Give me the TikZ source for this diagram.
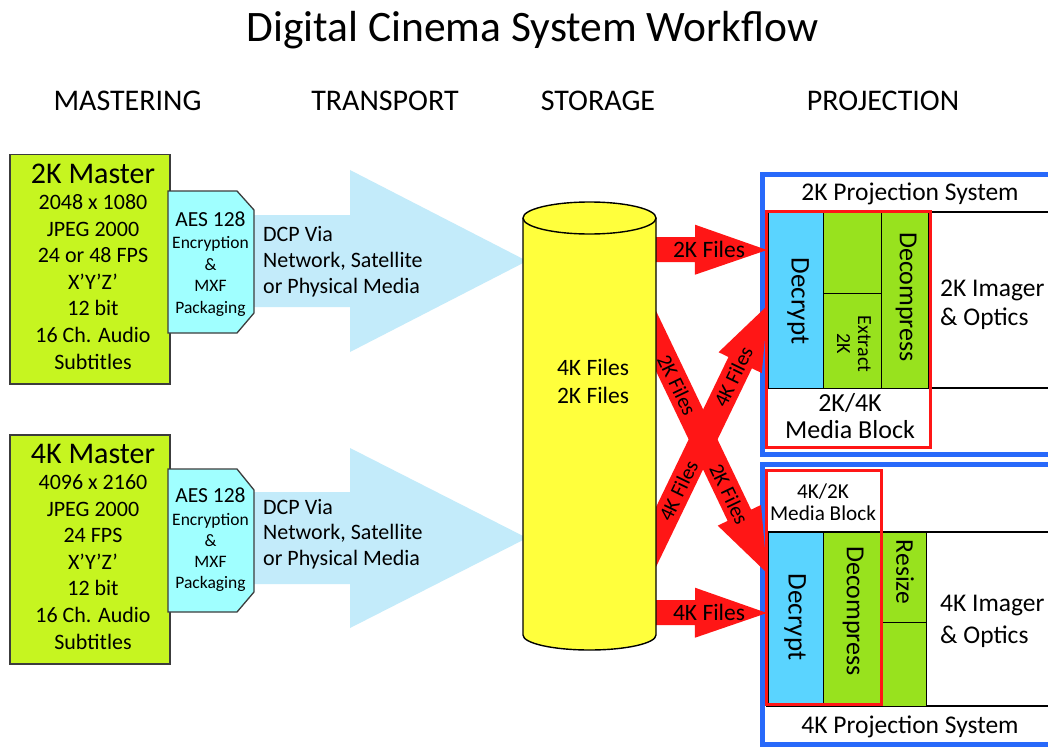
\documentclass[tikz,border=0pt]{standalone}
\usepackage{fontspec}
\setmainfont{Carlito}
\usetikzlibrary{calc}
\definecolor{limec}{RGB}{198,245,32}
\definecolor{aescyan}{RGB}{160,255,255}
\definecolor{lightbluec}{RGB}{195,235,250}
\definecolor{cylyellow}{RGB}{255,255,60}
\definecolor{redc}{RGB}{255,22,22}
\definecolor{blueb}{RGB}{40,105,250}
\definecolor{decryptc}{RGB}{90,212,255}
\definecolor{greenc}{RGB}{152,226,30}
\definecolor{edgegray}{RGB}{60,60,60}
\newcommand\textlines[7]{\foreach \ln [count=\k from 0] in {#7}{\node[anchor=#2, inner sep=0pt, font=\fontsize{#6}{#6}\selectfont] (#1\k) at (#3,{#4+\k*#5}) {\ln};}}
\newcommand\blockarrow[6]{%
  \coordinate (#2h) at ($(#3)!#6!(#2)$);
  \fill[#1] ($(#2)!#4!90:(#3)$) -- ($(#2h)!#4!90:(#3)$) -- ($(#2h)!#5!90:(#3)$) -- (#3) -- ($(#2h)!#5!-90:(#3)$) -- ($(#2h)!#4!-90:(#3)$) -- ($(#2)!#4!-90:(#3)$) -- cycle;}
\begin{document}
\begin{tikzpicture}[x=1pt,y=-1pt,
  masterbox/.style={draw=edgegray, line width=1.5pt, fill=limec, inner sep=0pt, anchor=north west},
  aesbox/.style={draw=edgegray, line width=1.3pt, fill=aescyan},
  cell/.style={draw=black, line width=1.1pt, inner sep=0pt, anchor=north west},
  projbox/.style={draw=blueb, line width=5pt},
  mediabox/.style={draw=redc, line width=3pt},
  rot/.style={rotate=-90, inner sep=0pt, font=\fontsize{#1}{#1}\selectfont},
  lbl/.style={inner sep=0pt, font=\fontsize{#1}{#1}\selectfont}]
\useasboundingbox (0,0) rectangle (1048,746);
\fill[white] (0,0) rectangle (1048,746);

% title and headers
\node[anchor=base, lbl=43.5] (title) at (532.5,42) {Digital Cinema System Workflow};
\node[anchor=base, lbl=30] (hmast) at (127.5,111) {MASTERING};
\node[anchor=base, lbl=30] (htrans) at (385,111) {TRANSPORT};
\node[anchor=base, lbl=30] (hstor) at (598,111) {STORAGE};
\node[anchor=base, lbl=30] (hproj) at (883,111) {PROJECTION};

% transport arrows
\fill[lightbluec] (240,215) -- (350,215) -- (350,170) -- (527,261) -- (350,352) -- (350,307) -- (240,307) -- cycle;
\fill[lightbluec] (240,492) -- (350,492) -- (350,448) -- (527,538) -- (350,628) -- (350,584) -- (240,584) -- cycle;
\textlines{dcpa}{base west}{263}{241.7}{25.8}{22}{DCP Via,{Network, Satellite},or Physical Media}
\textlines{dcpb}{base west}{263}{514}{25.8}{22}{DCP Via,{Network, Satellite},or Physical Media}

% masters
\node[masterbox, minimum width=160, minimum height=229] (m2k) at (9,154) {};
\node[masterbox, minimum width=160, minimum height=229] (m4k) at (9,434) {};
\node[anchor=base, lbl=30] (m2kt) at (93,183.3) {2K Master};
\node[anchor=base, lbl=30] (m4kt) at (93,463.3) {4K Master};
\textlines{mla}{base}{93}{209.5}{26.6}{22}{2048 x 1080,JPEG 2000,24 or 48 FPS,X’Y’Z’,12 bit,16 Ch. Audio,Subtitles}
\textlines{mlb}{base}{93}{489.5}{26.6}{22}{4096 x 2160,JPEG 2000,24 FPS,X’Y’Z’,12 bit,16 Ch. Audio,Subtitles}

% AES boxes
\draw[aesbox] (168,191) -- (237,191) -- (254,210) -- (254,313) -- (237,333) -- (168,333) -- cycle;
\draw[aesbox] (168,469) -- (237,469) -- (254,490) -- (254,592) -- (237,612) -- (168,612) -- cycle;
\node[anchor=base, lbl=21.5] (aesa) at (210.5,226) {AES 128};
\node[anchor=base, lbl=21.5] (aesb) at (210.5,502.3) {AES 128};
\textlines{aela}{base}{210.5}{248.5}{21.5}{17.5}{Encryption,\&,MXF,Packaging}
\textlines{aelb}{base}{210.5}{525}{21.3}{17.5}{Encryption,\&,MXF,Packaging}

% 2K projection system
\draw[projbox] (762.5,174.5) rectangle (1065,454);
\draw[black, line width=1.1pt] (930,212) -- (1065,212);
\draw[black, line width=1.1pt] (930,388) -- (1065,388);
\node[cell, fill=decryptc, minimum width=55, minimum height=176] (dec2) at (768,212) {};
\node[cell, fill=greenc, minimum width=58, minimum height=81] (gtop2) at (823,212) {};
\node[cell, fill=greenc, minimum width=58, minimum height=95] (ext2) at (823,293) {};
\node[cell, fill=greenc, minimum width=47, minimum height=176] (dcm2) at (881,212) {};
\draw[mediabox] (766.5,211) rectangle (930,447.5);
\node[rot=27] (dec2t) at (798,301) {Decrypt};
\node[rot=26] (dcm2t) at (906,297) {Decompress};
\node[rot=20, align=center] (ext2t) at (854,344) {Extract\\[1pt]2K};
\node[anchor=base, lbl=25.5] (p2t) at (910,200) {2K Projection System};
\node[anchor=base west, lbl=25.5] (img2a) at (940,296) {2K Imager};
\node[anchor=base west, lbl=25.5] (img2b) at (940,325.7) {\& Optics};
\node[anchor=base, lbl=26] (mb2a) at (850,411.7) {2K/4K};
\node[anchor=base, lbl=26] (mb2b) at (850,438.3) {Media Block};

% 4K projection system
\draw[projbox] (762.5,464.5) rectangle (1065,744.5);
\draw[black, line width=1.1pt] (766,532) -- (1065,532);
\draw[black, line width=1.1pt] (766,706) -- (1065,706);
\node[cell, fill=decryptc, minimum width=55, minimum height=172] (dec4) at (768,532) {};
\node[cell, fill=greenc, minimum width=57, minimum height=172] (dcm4) at (823,532) {};
\node[cell, fill=greenc, minimum width=46, minimum height=90] (res4) at (880,532) {};
\node[cell, fill=greenc, minimum width=46, minimum height=84] (gbot4) at (880,622) {};
\draw[mediabox] (766.5,470) rectangle (881,704);
\node[rot=27] (dec4t) at (795,617) {Decrypt};
\node[rot=26] (dcm4t) at (853,611) {Decompress};
\node[rot=25.5] (res4t) at (905,572) {Resize};
\node[anchor=base, lbl=21.2] (mb4a) at (823,498.3) {4K/2K};
\node[anchor=base, lbl=21.2] (mb4b) at (823,520) {Media Block};
\node[anchor=base west, lbl=25.5] (img4a) at (940,611.7) {4K Imager};
\node[anchor=base west, lbl=25.5] (img4b) at (940,643.3) {\& Optics};
\node[anchor=base, lbl=25.5] (p4t) at (910,733.3) {4K Projection System};

% red arrows
\coordinate (r2s) at (630,249.5);
\coordinate (r2t) at (767,250);
\coordinate (r4s) at (630,612.5);
\coordinate (r4t) at (767,613);
\coordinate (c2a) at (656,341);
\coordinate (c2t) at (767,573);
\coordinate (c4a) at (656,537);
\coordinate (c4t) at (768,305);
\coordinate (c2s) at ($(c2a)!-30pt!(c2t)$);
\coordinate (c4s) at ($(c4a)!-30pt!(c4t)$);
\blockarrow{redc}{r2s}{r2t}{12.5pt}{25pt}{72pt}
\blockarrow{redc}{r4s}{r4t}{12.5pt}{25pt}{72pt}
\blockarrow{redc}{c2s}{c2t}{13pt}{24pt}{64pt}
\blockarrow{redc}{c4s}{c4t}{13pt}{24pt}{64pt}

% storage cylinder
\draw[fill=cylyellow, line width=1.4pt] (523,218) -- (523,635) arc[start angle=180, end angle=360, x radius=66.5pt, y radius=15pt] -- (656,218);
\draw[fill=cylyellow, line width=1.4pt] (589.5,218) ellipse [x radius=66.5pt, y radius=16pt];
\node[anchor=base, lbl=23.5] (cyla) at (593,375) {4K Files};
\node[anchor=base, lbl=23.5] (cylb) at (593,403.3) {2K Files};

% red arrow labels
\node[anchor=base, lbl=23.5] (r2l) at (709,257.7) {2K Files};
\node[anchor=base, lbl=23.5] (r4l) at (709,620.5) {4K Files};
\path (c2a) -- (c2t) node[pos=0.19, sloped, lbl=21] (c2l1) {2K Files} node[pos=0.66, sloped, lbl=21] (c2l2) {2K Files};
\path (c4a) -- (c4t) node[pos=0.2, sloped, lbl=21] (c4l1) {4K Files} node[pos=0.69, sloped, lbl=21] (c4l2) {4K Files};
\end{tikzpicture}
\end{document}
